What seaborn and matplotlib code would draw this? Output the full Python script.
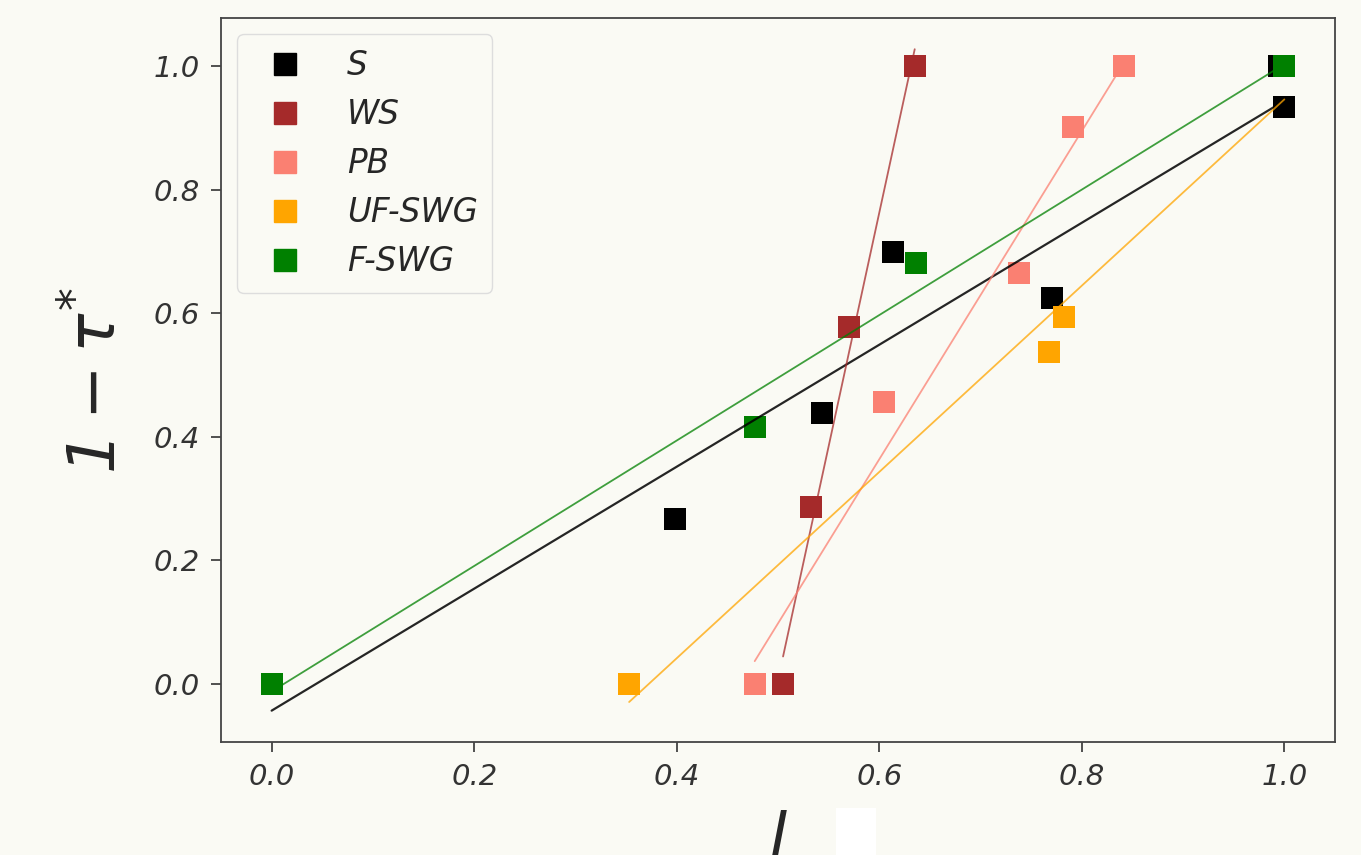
"""
Scatter of 1 - tau* against l for five series, each with its own
least-squares line (recreated from a figure).
"""

import matplotlib

matplotlib.use("Agg")
import matplotlib.pyplot as plt
import pandas as pd
import seaborn as sns
from matplotlib.lines import Line2D
from matplotlib.patches import Rectangle


# values
series_names = ["S", "WS", "PB", "UF-SWG", "F-SWG"]
series_colors = ["black", "brown", "salmon", "orange", "green"]

s_l = [0.0, 0.398, 0.543, 0.614, 0.771, 0.995, 1.0]
s_tau = [0.0, 0.267, 0.438, 0.699, 0.625, 1.0, 0.934]

ws_l = [0.505, 0.533, 0.570, 0.635]
ws_tau = [0.0, 0.286, 0.578, 1.0]

pb_l = [0.477, 0.605, 0.738, 0.791, 0.842]
pb_tau = [0.0, 0.456, 0.665, 0.901, 1.0]

uf_l = [0.353, 0.768, 0.782, 1.0]
uf_tau = [0.0, 0.537, 0.594, 1.0]

f_l = [0.0, 0.477, 0.636, 1.0]
f_tau = [0.0, 0.416, 0.681, 1.0]

x_ticks = [0.0, 0.2, 0.4, 0.6, 0.8, 1.0]
y_ticks = [0.0, 0.2, 0.4, 0.6, 0.8, 1.0]

BG = "#fafaf4"

sns.set_theme(style="white")
plt.rcParams["font.family"] = ["DejaVu Sans"]
# everything in the math labels is slanted, digits included
plt.rcParams["mathtext.fontset"] = "custom"
plt.rcParams["mathtext.rm"] = "DejaVu Sans:italic"
plt.rcParams["mathtext.it"] = "DejaVu Sans:italic"
plt.rcParams["mathtext.bf"] = "DejaVu Sans:italic:bold"
plt.rcParams["mathtext.sf"] = "DejaVu Sans:italic"
plt.rcParams["mathtext.default"] = "it"


def build_frame() -> pd.DataFrame:
    xs = [s_l, ws_l, pb_l, uf_l, f_l]
    ys = [s_tau, ws_tau, pb_tau, uf_tau, f_tau]
    parts = []
    for name, x, y in zip(series_names, xs, ys):
        parts.append(pd.DataFrame({"l": x, "tau": y, "series": name}))
    return pd.concat(parts, ignore_index=True)


def plot_tau(df: pd.DataFrame, save_path: str = "out.png") -> None:
    fig = plt.figure(figsize=(13.61, 8.55), dpi=100, facecolor=BG)
    ax = fig.add_axes([221 / 1361, 113 / 855, 1114 / 1361, 724 / 855])
    ax.set_facecolor(BG)

    palette = dict(zip(series_names, series_colors))

    # markers, drawn in series order so F-SWG ends on top
    sns.scatterplot(
        data=df, x="l", y="tau", hue="series", palette=palette,
        marker="s", s=250, linewidth=0, legend=False, ax=ax,
    )

    # one fitted line per series, spanning its own range
    for name in series_names:
        sub = df[df["series"] == name]
        sns.regplot(
            data=sub, x="l", y="tau", scatter=False, ci=None, truncate=True,
            ax=ax,
            line_kws={"color": palette[name], "lw": 1.6 if name == "S" else 1.3,
                      "alpha": 0.85 if name == "S" else 0.75},
        )

    ax.set_xlim(-0.05, 1.05)
    ax.set_ylim(-0.094, 1.078)
    ax.set_xticks(x_ticks)
    ax.set_yticks(y_ticks)
    ax.set_xticklabels([f"{t:.1f}" for t in x_ticks], style="italic")
    ax.set_yticklabels([f"{t:.1f}" for t in y_ticks], style="italic")
    ax.tick_params(axis="both", which="major", labelsize=21, colors="#333333",
                   length=7, width=1.2, pad=8, bottom=True, left=True)

    for spine in ax.spines.values():
        spine.set_color("#444444")
        spine.set_linewidth(1.3)

    ax.set_xlabel("$l$", fontsize=47, labelpad=14)
    ax.set_ylabel(r"$1 - \tau^{*}$", fontsize=47, labelpad=17)

    handles = [
        Line2D([], [], marker="s", ls="", color=c, markersize=16, label=n)
        for n, c in zip(series_names, series_colors)
    ]
    leg = ax.legend(
        handles=handles, loc="upper left", frameon=True,
        borderaxespad=0.5, handletextpad=0.9, labelspacing=0.49,
        borderpad=0.45, prop={"style": "italic", "size": 23.5},
    )
    leg.get_frame().set_facecolor(BG)
    leg.get_frame().set_edgecolor("#dddddd")
    leg.get_frame().set_alpha(1.0)

    # white patch at the bottom edge of the original image
    fig.add_artist(Rectangle((836 / 1361, 0), 40 / 1361, 47 / 855,
                             transform=fig.transFigure, facecolor="white",
                             edgecolor="none", zorder=5))

    fig.savefig(save_path, dpi=100, facecolor=BG)
    plt.close(fig)


if __name__ == "__main__":
    plot_tau(build_frame())
